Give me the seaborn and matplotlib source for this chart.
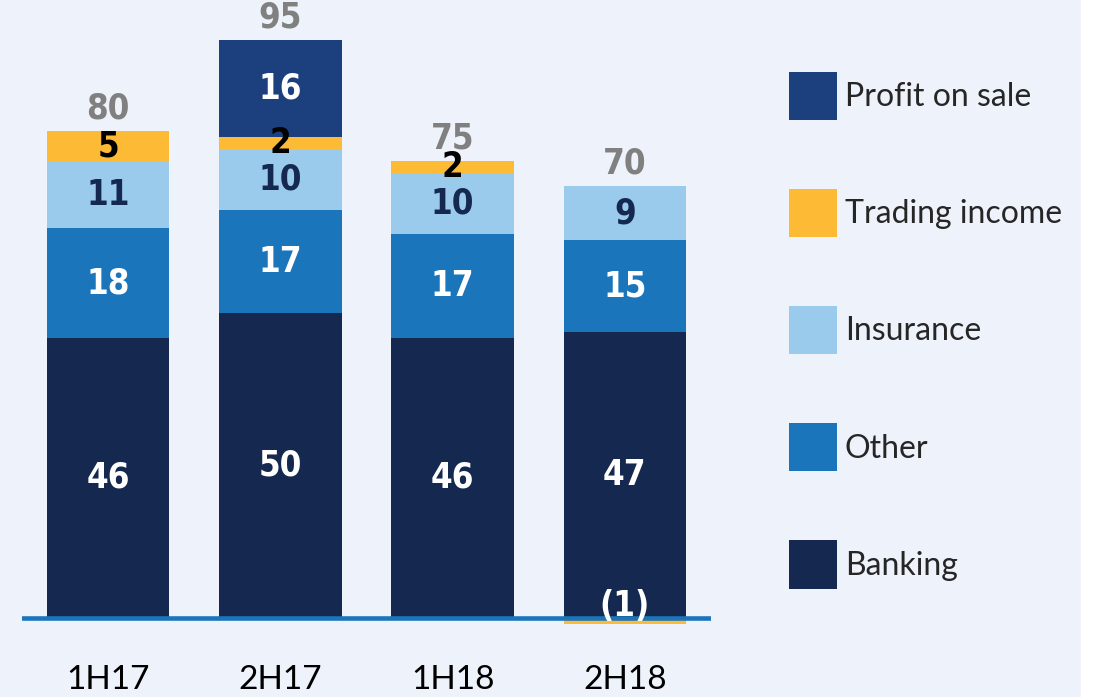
import matplotlib
matplotlib.use("Agg")
import matplotlib.pyplot as plt
import seaborn as sns
import numpy as np
import pandas as pd
from matplotlib import font_manager as fm
from matplotlib.patches import Patch, Rectangle

# data
periods = ["1H17", "2H17", "1H18", "2H18"]
banking = [46, 50, 46, 47]
other = [18, 17, 17, 15]
insurance = [11, 10, 10, 9]
trading = [5, 2, 2, -1]
profit_on_sale = [0, 16, 0, 0]
totals = [80, 95, 75, 70]

layers = ["Banking", "Other", "Insurance", "Trading income", "Profit on sale"]
values = [banking, other, insurance, trading, profit_on_sale]
colors = ["#15284f", "#1b75bb", "#9acbec", "#fdbb35", "#1c3f7e"]
label_colors = ["white", "white", "#15284f", "black", "white"]

bg = "#eef2fa"
txt_font = ["Lato", "DejaVu Sans"]

sns.set_theme(style="white")
plt.rcParams["font.family"] = txt_font


# look for a narrow / condensed bold face for the numbers
def is_bold(f):
    w = f.weight
    return w in ("bold", "semibold", "demibold") or (isinstance(w, int) and w >= 600)


cands = [f for f in fm.fontManager.ttflist
         if is_bold(f) and ("Narrow" in f.name or "Condensed" in f.name
                            or "ondensed" in str(f.stretch))]
if cands:
    num_prop = fm.FontProperties(fname=cands[0].fname, size=25)
else:
    num_prop = fm.FontProperties(family="Roboto", weight="bold", size=25)

fig = plt.figure(figsize=(10.94, 6.97), dpi=100)
fig.patch.set_facecolor(bg)
# white strip on the right edge
fig.patches.append(Rectangle((1081 / 1094, 0), 1, 1, transform=fig.transFigure,
                             color="white", zorder=-10))

ax = fig.add_axes([22 / 1094, 67 / 697, (711 - 22) / 1094, 630 / 697])
ax.set_facecolor("none")

df = pd.DataFrame(dict(zip(layers, values)), index=periods)
pos = df.clip(lower=0)
cum = pos.cumsum(axis=1)

# draw stacks from top layer down so each layer covers the one below
for layer, col in reversed(list(zip(layers, colors))):
    sns.barplot(x=periods, y=cum[layer].values, color=col, width=0.71,
                saturation=1, linewidth=0, ax=ax, zorder=2)
neg = df.clip(upper=0)
for layer, col in zip(layers, colors):
    if (neg[layer] < 0).any():
        sns.barplot(x=periods, y=neg[layer].values, color=col, width=0.71,
                    saturation=1, linewidth=0, ax=ax, zorder=2)

ax.axhline(0, color="#1b75bb", lw=3.3, zorder=3)

# segment labels
for i, p in enumerate(periods):
    base = 0
    for layer, lc in zip(layers, label_colors):
        v = df.loc[p, layer]
        if v > 0:
            ax.text(i, base + v / 2, str(v), ha="center", va="center",
                    color=lc, fontproperties=num_prop, zorder=4)
            base += v
        elif v < 0:
            ax.text(i, 2, f"({-v})", ha="center", va="center", color="white",
                    fontproperties=num_prop, zorder=4)
    ax.annotate(str(totals[i]), (i, cum.loc[p].iloc[-1]), xytext=(0, 4),
                textcoords="offset points", ha="center", va="bottom",
                color="#808080", fontproperties=num_prop, zorder=4)

ax.set_xlim(-0.5, 3.5)
ax.set_ylim(-2, 101.5)
ax.set_yticks([])
ax.set_xlabel("")
ax.tick_params(axis="x", length=0, pad=25, labelsize=24, colors="black")
for s in ax.spines.values():
    s.set_visible(False)

handles = [Patch(facecolor=c, edgecolor="none") for c in colors][::-1]
fig.legend(handles, layers[::-1], loc="upper left",
           bbox_to_anchor=(789 / 1094, 1 - 72 / 697), frameon=False,
           fontsize=23, handlelength=1.5, handleheight=1.94,
           handletextpad=0.25, labelspacing=2.16, borderpad=0,
           borderaxespad=0)

fig.savefig("out.png", dpi=100, facecolor=fig.get_facecolor())
